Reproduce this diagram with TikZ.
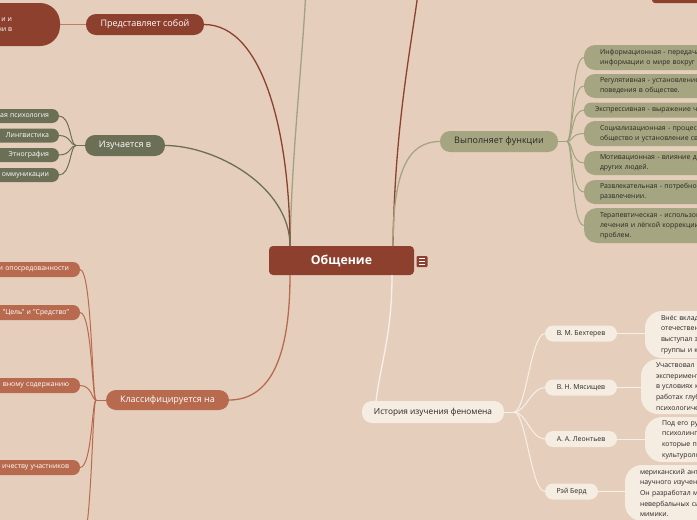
\documentclass[tikz,border=0pt]{standalone}
\usepackage{fontspec}
\setmainfont{Open Sans}
\definecolor{cBg}{RGB}{230,206,188}
\definecolor{cRed}{RGB}{142,64,46}
\definecolor{cRedSoft}{RGB}{190,124,102}
\definecolor{cTerra}{RGB}{184,106,78}
\definecolor{cOliveD}{RGB}{107,111,86}
\definecolor{cOliveL}{RGB}{166,165,129}
\definecolor{cOliveLine}{RGB}{160,163,127}
\definecolor{cCream}{RGB}{245,236,226}
\definecolor{cCreamLine}{RGB}{247,240,232}
\definecolor{cText}{RGB}{40,40,35}
\tikzset{
  every node/.style={inner sep=0pt, outer sep=0pt},
  ftxt/.style={font=\fontsize{9}{10}\selectfont},
  stxt/.style={font=\fontsize{6.9}{10}\selectfont},
  btxt/.style={font=\fontsize{6.9}{10.6}\selectfont},
  topic/.style={rounded corners=10pt, minimum height=21pt, ftxt},
  redtopic/.style={topic, fill=cRed, text=white},
  olivedtopic/.style={topic, fill=cOliveD, text=white},
  olivetopic/.style={topic, fill=cOliveL, text=cText},
  terratopic/.style={topic, fill=cTerra, text=white},
  creamtopic/.style={topic, fill=cCream, text=cText, font=\fontsize{8.3}{10}\selectfont},
  izleaf/.style={fill=cOliveD, text=white, stxt, rounded corners=7pt, minimum height=14pt, anchor=east, text width=110pt, align=right, inner xsep=10pt},
  clleaf/.style={fill=cTerra, text=white, stxt, rounded corners=7pt, minimum height=15pt, anchor=east, text width=110pt, align=right, inner xsep=11pt},
  fleaf/.style={fill=cOliveL, text=cText, stxt, anchor=north west, text width=220pt, align=left, inner xsep=16pt},
  hname/.style={fill=cCream, text=cText, stxt, rounded corners=8pt, minimum height=16pt},
  bubble/.style={fill=cCream, text=cText, btxt, rounded corners=17pt, anchor=north west, text width=200pt, align=left},
  mainline/.style={line width=1.3pt},
  subline/.style={line width=1pt},
}
\begin{document}
\begin{tikzpicture}[x=1pt,y=-1pt]
\useasboundingbox (0,0) rectangle (697,520);
\clip (0,0) rectangle (697,520);
\fill[cBg] (0,0) rectangle (697,520);

% ---------- nodes ----------
\node[fill=cRed, rounded corners=4pt, minimum width=145pt, minimum height=29pt, text=white,
      font=\bfseries\fontsize{12.3}{14}\selectfont] (root) at (341.5,260.5) {Общение};
\node[fill=cRed, rounded corners=1pt, minimum width=11pt, minimum height=11pt] (icon) at (422,261.5) {};
\draw[white, line width=0.8pt] (418.8,258.5) -- (425.2,258.5) (418.8,261.5) -- (425.2,261.5) (418.8,264.5) -- (425.2,264.5);

\coordinate (rtL) at ([xshift=21pt]root.north west);
\coordinate (rtR) at ([xshift=-21pt]root.north east);
\coordinate (rbL) at ([xshift=21pt]root.south west);
\coordinate (rbR) at ([xshift=-22pt]root.south east);

% top-left region
\node[fill=cRed, rounded corners=20pt, minimum width=150pt, minimum height=43pt, anchor=east] (tl) at (60,24.5) {};
\node[anchor=east, align=right, text=white, stxt] (tltxt) at (12,25) {и и\\ни в};
\node[redtopic, minimum width=118pt] (pred) at (145,24.5) {Представляет собой};

% off-canvas items at top
\node[fill=cRed, rounded corners=3pt, anchor=south west, minimum width=60pt, minimum height=30pt] (trn) at (652,3) {};
\coordinate (topL) at (307,-30);
\coordinate (topR) at (421,-30);

% Изучается в
\node[olivedtopic, minimum width=80pt] (izu) at (125,145.5) {Изучается в};
\node[izleaf] (iz1) at (59,116) {ая психология};
\node[izleaf] (iz2) at (59,135.5) {Лингвистика};
\node[izleaf] (iz3) at (59,155) {Этнография};
\node[izleaf] (iz4) at (59,175) {оммуникации};

% Классифицируется на
\node[terratopic, minimum width=123pt, minimum height=20pt] (cls) at (167.5,400) {Классифицируется на};
\node[clleaf] (c1) at (80,269.5) {и опосредованности};
\node[clleaf] (c2) at (80,312.5) {"Цель" и "Средство"};
\node[clleaf] (c3) at (80,385.5) {вному содержанию};
\node[clleaf] (c4) at (80,467.5) {ичеству участников};
\coordinate (c5) at (80,548);

% Выполняет функции
\node[olivetopic, minimum width=118pt] (vf) at (499,141.5) {Выполняет функции};
\node[fleaf, minimum height=25pt, rounded corners=11pt] (f1) at (584,45) {Информационная - передача\\информации о мире вокруг};
\node[fleaf, minimum height=24pt, rounded corners=11pt] (f2) at (584,74) {Регулятивная - установление норм\\поведения в обществе.};
\node[fleaf, minimum height=15pt, rounded corners=7pt, inner xsep=11pt] (f3) at (584,102.5) {Экспрессивная - выражение чувств};
\node[fleaf, minimum height=25pt, rounded corners=11pt] (f4) at (584,121) {Социализационная - процесс вхождения в\\общество и установление связей};
\node[fleaf, minimum height=24pt, rounded corners=11pt] (f5) at (584,151) {Мотивационная - влияние действиями\\других людей.};
\node[fleaf, minimum height=24pt, rounded corners=11pt] (f6) at (584,180) {Развлекательная - потребность в\\развлечении.};
\node[fleaf, minimum height=35pt, rounded corners=13pt] (f7) at (584,208) {Терапевтическая - использование для\\лечения и лёгкой коррекции\\проблем.};

% История изучения феномена
\node[creamtopic, minimum width=142pt, minimum height=22pt] (hist) at (433,412) {История изучения феномена};
\coordinate (histT) at ([xshift=14pt]hist.north west);
\node[hname, minimum width=72pt] (h1) at (581,333.5) {В. М. Бехтерев};
\node[hname, minimum width=72pt] (h2) at (581,387.5) {В. Н. Мясищев};
\node[hname, minimum width=72pt] (h3) at (581,439) {А. А. Леонтьев};
\node[hname, minimum width=53pt] (h4) at (571.5,491.5) {Рэй Берд};
\node[bubble, minimum height=47pt, inner xsep=16pt] (b1) at (645,311) {Внёс вклад в развитие\\отечественной психологии,\\выступал за изучение\\группы и коллектива};
\node[bubble, minimum height=55pt, inner xsep=15pt] (b2) at (641,359) {Участвовал в\\экспериментах по изучению\\в условиях коллектива,\\работах глубокого\\психологического анализа};
\node[bubble, minimum height=45pt, inner xsep=17pt] (b3) at (645,417) {Под его руководством\\психолингвистика,\\которые получили развитие\\культурологии};
\node[bubble, minimum height=56pt, inner xsep=15pt] (b4) at (625,465) {мериканский антрополог, основатель\\научного изучения жестов.\\Он разработал метод записи\\невербальных сигналов и\\мимики.};

% ---------- connectors ----------
\draw[cOliveLine, mainline] (rtL) .. controls +(2,-100) and +(-4,90) .. (topL);
\draw[cRed, mainline] (rtL) .. controls +(0,-110) and +(60,0) .. (pred.east);
\draw[cOliveD, mainline] (rtL) .. controls +(0,-60) and +(50,0) .. (izu.east);
\draw[cRed, mainline] (rtR) .. controls +(2,-130) and +(-8,70) .. (topR);
\draw[cOliveL, mainline] (rtR) .. controls +(0,-75) and +(-32,0) .. (vf.west);
\draw[cCreamLine, mainline] (rbR) .. controls +(0,60) and +(5,-40) .. (histT);
\draw[cTerra, mainline] (rbL) .. controls +(0,85) and +(40,0) .. (cls.east);

\draw[cRedSoft, subline] (tl.east) -- (pred.west);

\coordinate (ij) at ([xshift=-9pt]izu.west);
\draw[cOliveD, subline] (izu.west) -- (ij);
\foreach \c in {iz1,iz2,iz3,iz4}
  \draw[cOliveD, subline] (ij) .. controls +(-6,0) and +(12,0) .. (\c.east);

\coordinate (cj) at ([xshift=-10pt]cls.west);
\draw[cTerra, subline] (cls.west) -- (cj);
\foreach \c in {c1,c2,c3,c4}
  \draw[cTerra, subline] (cj) .. controls +(-4,0) and +(12,0) .. (\c.east);
\draw[cTerra, subline] (cj) .. controls +(-4,0) and +(12,0) .. (c5);

\coordinate (vj) at ([xshift=9pt]vf.east);
\draw[cOliveLine, subline] (vf.east) -- (vj);
\foreach \c in {f1,f2,f3,f4,f5,f6,f7}
  \draw[cOliveLine, subline] (vj) .. controls +(6,0) and +(-13,0) .. (\c.west);

\coordinate (hj) at ([xshift=10pt]hist.east);
\draw[cCreamLine, subline] (hist.east) -- (hj);
\foreach \c in {h1,h2,h3,h4}
  \draw[cCreamLine, subline] (hj) .. controls +(12,0) and +(-14,0) .. (\c.west);
\draw[cCreamLine, subline] (h1.east) -- (h1.east -| b1.west);
\draw[cCreamLine, subline] (h2.east) -- (h2.east -| b2.west);
\draw[cCreamLine, subline] (h3.east) -- (h3.east -| b3.west);
\draw[cCreamLine, subline] (h4.east) -- (h4.east -| b4.west);
\end{tikzpicture}
\end{document}
